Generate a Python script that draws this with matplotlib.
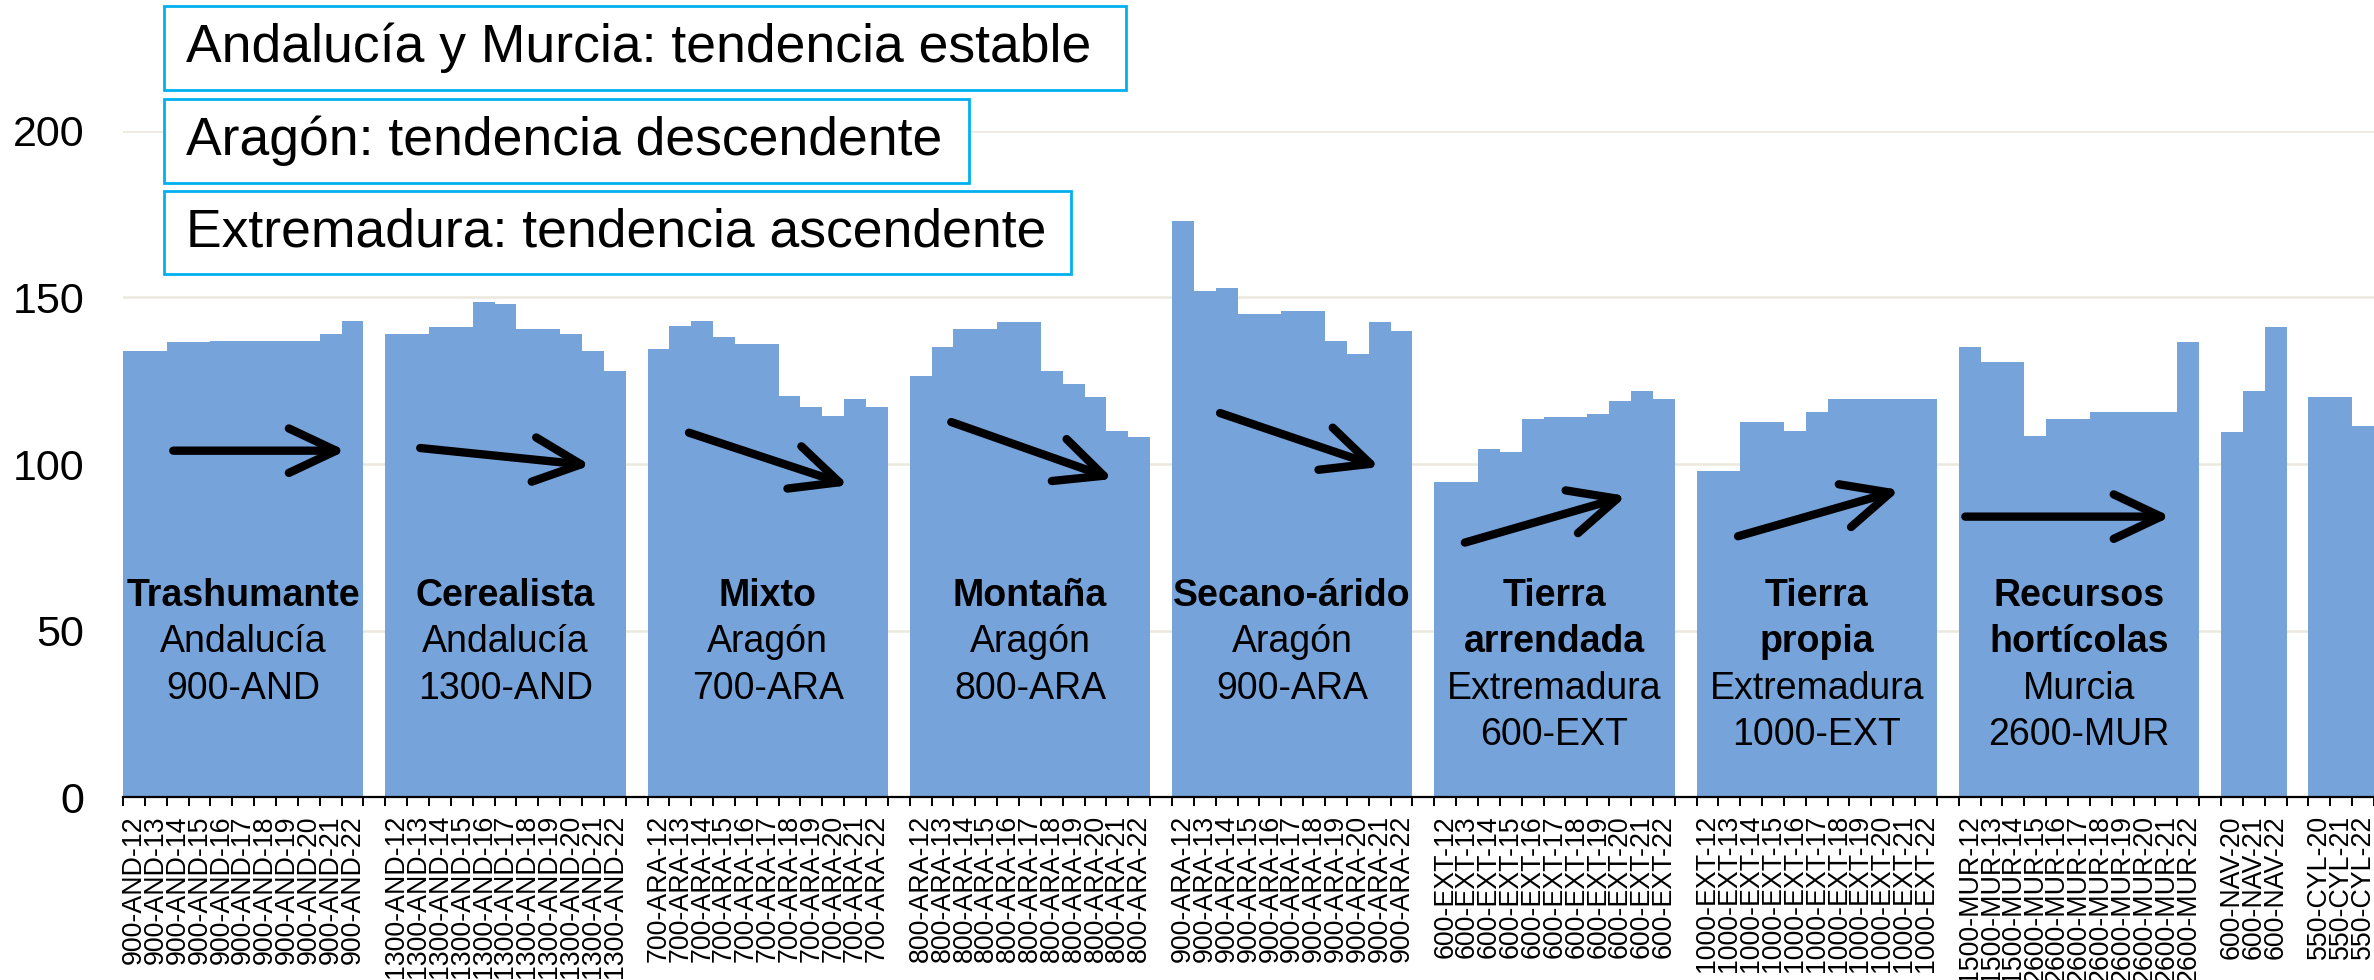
import numpy as np
import matplotlib
matplotlib.use('Agg')
import matplotlib.pyplot as plt
from matplotlib.patches import Rectangle

plt.rcParams['font.family'] = ['Liberation Sans', 'DejaVu Sans']

# groups of farms (code, years) and the values
years = ['12', '13', '14', '15', '16', '17', '18', '19', '20', '21', '22']
and900 = [134, 134, 136.5, 136.5, 137, 137, 137, 137, 137, 139, 143]
and1300 = [139, 139, 141, 141, 148.5, 148, 140.5, 140.5, 139, 134, 128]
ara700 = [134.5, 141.5, 143, 138, 136, 136, 120.5, 117, 114.5, 119.5, 117]
ara800 = [126.5, 135, 140.5, 140.5, 142.5, 142.5, 128, 124, 120, 110, 108]
ara900 = [173, 152, 153, 145, 145, 146, 146, 137, 133, 142.5, 140]
ext600 = [94.5, 94.5, 104.5, 103.5, 113.5, 114, 114, 115, 119, 122, 119.5]
ext1000 = [98, 98, 112.5, 112.5, 110, 115.5, 119.5, 119.5, 119.5, 119.5, 119.5]
mur = [135, 130.5, 130.5, 108.5, 113.5, 113.5, 115.5, 115.5, 115.5, 115.5, 136.5]
nav = [109.5, 122, 141]
cyl = [120, 120, 111.5]

labels_and900 = ['900-AND-' + y for y in years]
labels_and1300 = ['1300-AND-' + y for y in years]
labels_ara700 = ['700-ARA-' + y for y in years]
labels_ara800 = ['800-ARA-' + y for y in years]
labels_ara900 = ['900-ARA-' + y for y in years]
labels_ext600 = ['600-EXT-' + y for y in years]
labels_ext1000 = ['1000-EXT-' + y for y in years]
labels_mur = ['1500-MUR-12', '1500-MUR-13', '1500-MUR-14'] + ['2600-MUR-' + y for y in years[3:]]
labels_nav = ['600-NAV-20', '600-NAV-21', '600-NAV-22']
labels_cyl = ['550-CYL-20', '550-CYL-21', '550-CYL-22']

group_names = [['Trashumante', 'Andalucía', '900-AND'],
               ['Cerealista', 'Andalucía', '1300-AND'],
               ['Mixto', 'Aragón', '700-ARA'],
               ['Montaña', 'Aragón', '800-ARA'],
               ['Secano-árido', 'Aragón', '900-ARA'],
               ['Tierra', 'arrendada', 'Extremadura', '600-EXT'],
               ['Tierra', 'propia', 'Extremadura', '1000-EXT'],
               ['Recursos', 'hortícolas', 'Murcia', '2600-MUR']]
n_bold = [1, 1, 1, 1, 1, 2, 2, 2]

# trend arrows: (x start, y start, x end, y end) in category / value units
arrows = [(1.8, 104, 9.7, 104),
          (13.1, 104.8, 20.9, 99.6),
          (25.4, 109.4, 32.7, 93.6),
          (37.4, 112.6, 44.8, 95.5),
          (49.7, 115.3, 57.0, 99.1),
          (60.9, 76.4, 68.3, 90.4),
          (73.4, 78.3, 80.8, 92.2),
          (83.8, 84.2, 93.2, 84.2)]

boxes = ['Andalucía y Murcia: tendencia estable',
         'Aragón: tendencia descendente',
         'Extremadura: tendencia ascendente']

series = [and900, and1300, ara700, ara800, ara900, ext600, ext1000, mur, nav, cyl]
series_labels = [labels_and900, labels_and1300, labels_ara700, labels_ara800, labels_ara900,
                 labels_ext600, labels_ext1000, labels_mur, labels_nav, labels_cyl]

# lay out with one empty category between groups
values = []
ticklabels = []
for i, (v, l) in enumerate(zip(series, series_labels)):
    values += v
    ticklabels += l
    if i < len(series) - 1:
        values.append(np.nan)
        ticklabels.append('')
x = np.arange(len(values))

W, H = 2374, 980
fig = plt.figure(figsize=(W / 100, H / 100), dpi=100)
ax = fig.add_axes([123 / W, 1 - 797 / H, 1 - 123 / W, (797 - 131) / H])

ax.bar(x, values, width=1.0, color='#77A3DB', zorder=2)
ax.set_xlim(-0.5, len(values) - 0.5)
ax.set_ylim(0, 200)
ax.set_yticks([0, 50, 100, 150, 200])
ax.yaxis.grid(True, color='#EBE8DC', lw=1.8, zorder=0)
ax.tick_params(axis='y', length=0, labelsize=31, pad=28)
ax.set_xticks(x)
ax.set_xticklabels(ticklabels, rotation=90, fontsize=19.3)
ax.tick_params(axis='x', which='major', length=0, pad=13)
ax.set_xticks(np.arange(len(values) + 1) - 0.5, minor=True)
ax.tick_params(axis='x', which='minor', length=6.5, width=1.4, direction='out')
for s in ['left', 'right', 'top']:
    ax.spines[s].set_visible(False)
ax.spines['bottom'].set_linewidth(1.6)
ax.spines['bottom'].set_zorder(3)

# group captions
for g, lines in enumerate(group_names):
    cx = 12 * g + 5
    for k, t in enumerate(lines):
        ax.text(cx, 60.5 - 14 * k, t, ha='center', va='center', fontsize=27,
                fontweight='bold' if k < n_bold[g] else 'normal', zorder=4)

for x0, y0, x1, y1 in arrows:
    ax.annotate('', xy=(x1, y1), xytext=(x0, y0),
                arrowprops=dict(arrowstyle='->,head_length=3.4,head_width=1.6',
                                lw=6, color='black', shrinkA=0, shrinkB=0,
                                capstyle='round', joinstyle='round'),
                zorder=5)

# text boxes at the top (figure pixels)
box_geom = [(164, 6, 1126, 90), (164, 99, 969, 183), (164, 191, 1071, 274)]
for t, (bx0, by0, bx1, by1) in zip(boxes, box_geom):
    fig.patches.append(Rectangle((bx0 / W, 1 - by1 / H), (bx1 - bx0) / W, (by1 - by0) / H,
                                 transform=fig.transFigure, fill=True, facecolor='white',
                                 edgecolor='#00B0F0', lw=2, zorder=5))
    fig.text(186 / W, 1 - (by0 + by1) / 2 / H, t, ha='left', va='center', fontsize=38.5, zorder=6)

fig.savefig('out.png', dpi=100)
